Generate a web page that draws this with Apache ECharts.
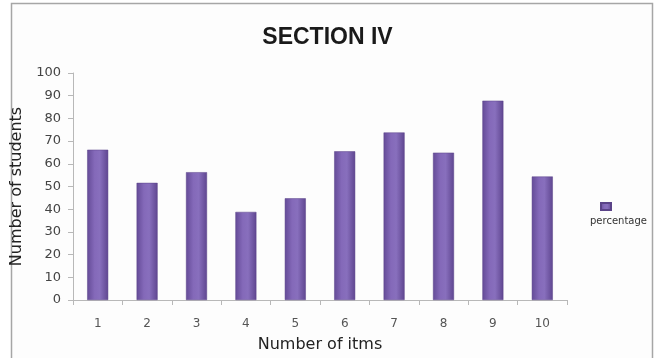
<!DOCTYPE html>
<html>
<head>
<meta charset="utf-8">
<script src="https://cdn.jsdelivr.net/npm/echarts@6/dist/echarts.min.js"></script>
<style>
  html, body { margin: 0; padding: 0; background: #ffffff; }
  #chart { width: 655px; height: 358px; }
</style>
</head>
<body>
<div id="chart"></div>
<script>
// Item numbers along the x axis
const items = ['1', '2', '3', '4', '5', '6', '7', '8', '9', '10'];
// Percentage of students per item
const percentage = [66.2, 51.6, 56.3, 38.8, 44.8, 65.5, 73.8, 64.9, 87.8, 54.4];
const seriesName = 'percentage';
const titleText = 'SECTION IV';
const xName = 'Number of itms';
const yName = 'Number of students';

const chart = echarts.init(document.getElementById('chart'), null, { renderer: 'canvas' });

const barFill = new echarts.graphic.LinearGradient(0, 0, 1, 0, [
  { offset: 0, color: '#644b97' },
  { offset: 0.35, color: '#8469b9' },
  { offset: 0.6, color: '#886fbd' },
  { offset: 1, color: '#5f4690' }
]);

const labelFont = 'DejaVu Sans, sans-serif';

chart.setOption({
  backgroundColor: '#ffffff',
  animation: false,
  title: {
    text: titleText,
    left: 'center',
    top: 21,
    textStyle: { fontFamily: 'Liberation Sans, Arial, sans-serif', fontWeight: 'bold', fontSize: 23, color: '#1a1a1a' }
  },
  legend: {
    data: [{ name: seriesName, icon: 'rect' }],
    left: 595,
    top: 197,
    itemWidth: 10,
    itemHeight: 7,
    formatter: () => '',
    itemGap: 0,
    textStyle: { fontSize: 1 }
  },
  graphic: [
    {
      type: 'rect',
      silent: true,
      z: -1,
      shape: { x: 11.5, y: 3.5, width: 641, height: 380 },
      style: { fill: '#fdfdfd', stroke: '#a6a6a6', lineWidth: 1.5 }
    },
    {
      type: 'text',
      left: 590,
      top: 216,
      style: { text: seriesName, fontFamily: labelFont, fontSize: 10, fill: '#333333' }
    }
  ],
  grid: { left: 73, right: 88, top: 73, bottom: 53 },
  xAxis: {
    type: 'category',
    data: items,
    name: xName,
    nameLocation: 'middle',
    nameGap: 37,
    nameTextStyle: { fontFamily: labelFont, fontSize: 16, color: '#222222' },
    axisLine: { lineStyle: { color: '#b8b8b8' } },
    axisTick: { show: true, length: 5, lineStyle: { color: '#b8b8b8' } },
    axisLabel: { margin: 18, fontFamily: labelFont, fontSize: 12, color: '#555555' }
  },
  yAxis: {
    type: 'value',
    min: 0,
    max: 100,
    interval: 10,
    name: yName,
    nameLocation: 'middle',
    nameGap: 46,
    nameTextStyle: { fontFamily: labelFont, fontSize: 16, color: '#222222' },
    splitLine: { show: false },
    axisLine: { show: true, lineStyle: { color: '#b8b8b8' } },
    axisTick: { show: true, length: 5, lineStyle: { color: '#b8b8b8' } },
    axisLabel: { margin: 12, fontFamily: labelFont, fontSize: 13, color: '#444444' }
  },
  series: [
    {
      name: seriesName,
      type: 'bar',
      data: percentage,
      barWidth: 21,
      itemStyle: { color: barFill, borderColor: '#5a4388', borderWidth: 0.5 }
    }
  ]
});
</script>
</body>
</html>
